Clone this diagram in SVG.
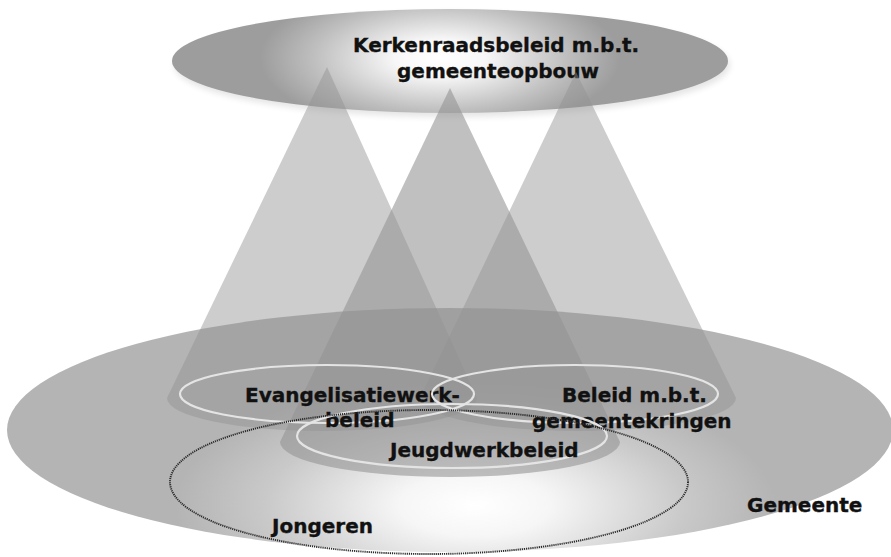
<svg xmlns="http://www.w3.org/2000/svg" width="891" height="557" viewBox="0 0 891 557">
  <defs>
    <radialGradient id="gBig" gradientUnits="userSpaceOnUse" cx="0" cy="0" r="1" gradientTransform="translate(475 505) scale(300 125)">
      <stop offset="0" stop-color="#ffffff"/>
      <stop offset="0.25" stop-color="#f6f6f6"/>
      <stop offset="0.7" stop-color="#c9c9c9"/>
      <stop offset="1" stop-color="#b4b4b4"/>
    </radialGradient>
    <radialGradient id="gTop" gradientUnits="userSpaceOnUse" cx="0" cy="0" r="1" gradientTransform="translate(440 58) scale(180 75)">
      <stop offset="0" stop-color="#ffffff"/>
      <stop offset="0.25" stop-color="#f7f7f7"/>
      <stop offset="0.7" stop-color="#bfbfbf"/>
      <stop offset="1" stop-color="#9d9d9d"/>
    </radialGradient>
    <filter id="soft" x="-10%" y="-30%" width="120%" height="160%">
      <feGaussianBlur stdDeviation="3"/>
    </filter>
  </defs>
  <style>
    .lbl { font-family: "DejaVu Sans", Verdana, sans-serif; font-weight: bold; font-size: 20px; fill: #111111; stroke: #111111; stroke-width: 0.35; }
    .cone { fill: #929292; fill-opacity: 0.46; }
    .cone-mid { fill: #929292; fill-opacity: 0.58; }
    .ring { fill: none; stroke: #e4e4e4; stroke-width: 2.2; }
    .dots { fill: none; stroke: #2a2a2a; stroke-width: 1.9; stroke-dasharray: 1.2 0.9; }
  </style>

  <rect width="891" height="557" fill="#ffffff"/>

  <g id="gemeente">
    <ellipse cx="450" cy="430" rx="443" ry="122" fill="url(#gBig)"/>
    <text class="lbl" x="747" y="512">Gemeente</text>
  </g>

  <g id="kerkenraadsbeleid">
    <ellipse cx="452" cy="65" rx="278" ry="52" fill="#000000" opacity="0.1" filter="url(#soft)"/>
    <ellipse cx="450" cy="61" rx="278" ry="52" fill="url(#gTop)"/>
    <text class="lbl" x="353" y="52">Kerkenraadsbeleid m.b.t.</text>
    <text class="lbl" x="397" y="78">gemeenteopbouw</text>
  </g>

  <g id="connectors">
    <path class="cone" d="M327 67 L167 398 A155 33 0 0 0 477 398 Z"/>
    <path class="cone" d="M576 72 L420 398 A158 33 0 0 0 736 398 Z"/>
    <path class="cone-mid" d="M450 88 L280 442 A170 35 0 0 0 620 442 Z"/>
  </g>

  <g id="evangelisatiewerkbeleid">
    <ellipse class="ring" cx="327" cy="394" rx="147" ry="29"/>
    <text class="lbl" x="245" y="402">Evangelisatiewerk-</text>
    <text class="lbl" x="325" y="427">beleid</text>
  </g>

  <g id="gemeentekringen">
    <ellipse class="ring" cx="575" cy="394" rx="143" ry="29"/>
    <text class="lbl" x="562" y="402">Beleid m.b.t.</text>
    <text class="lbl" x="532" y="428">gemeentekringen</text>
  </g>

  <g id="jeugdwerkbeleid">
    <ellipse class="ring" cx="452" cy="436" rx="155" ry="32"/>
    <text class="lbl" x="390" y="457">Jeugdwerkbeleid</text>
  </g>

  <g id="jongeren">
    <ellipse class="dots" cx="429" cy="482" rx="259" ry="72"/>
    <text class="lbl" x="272" y="533">Jongeren</text>
  </g>
</svg>
